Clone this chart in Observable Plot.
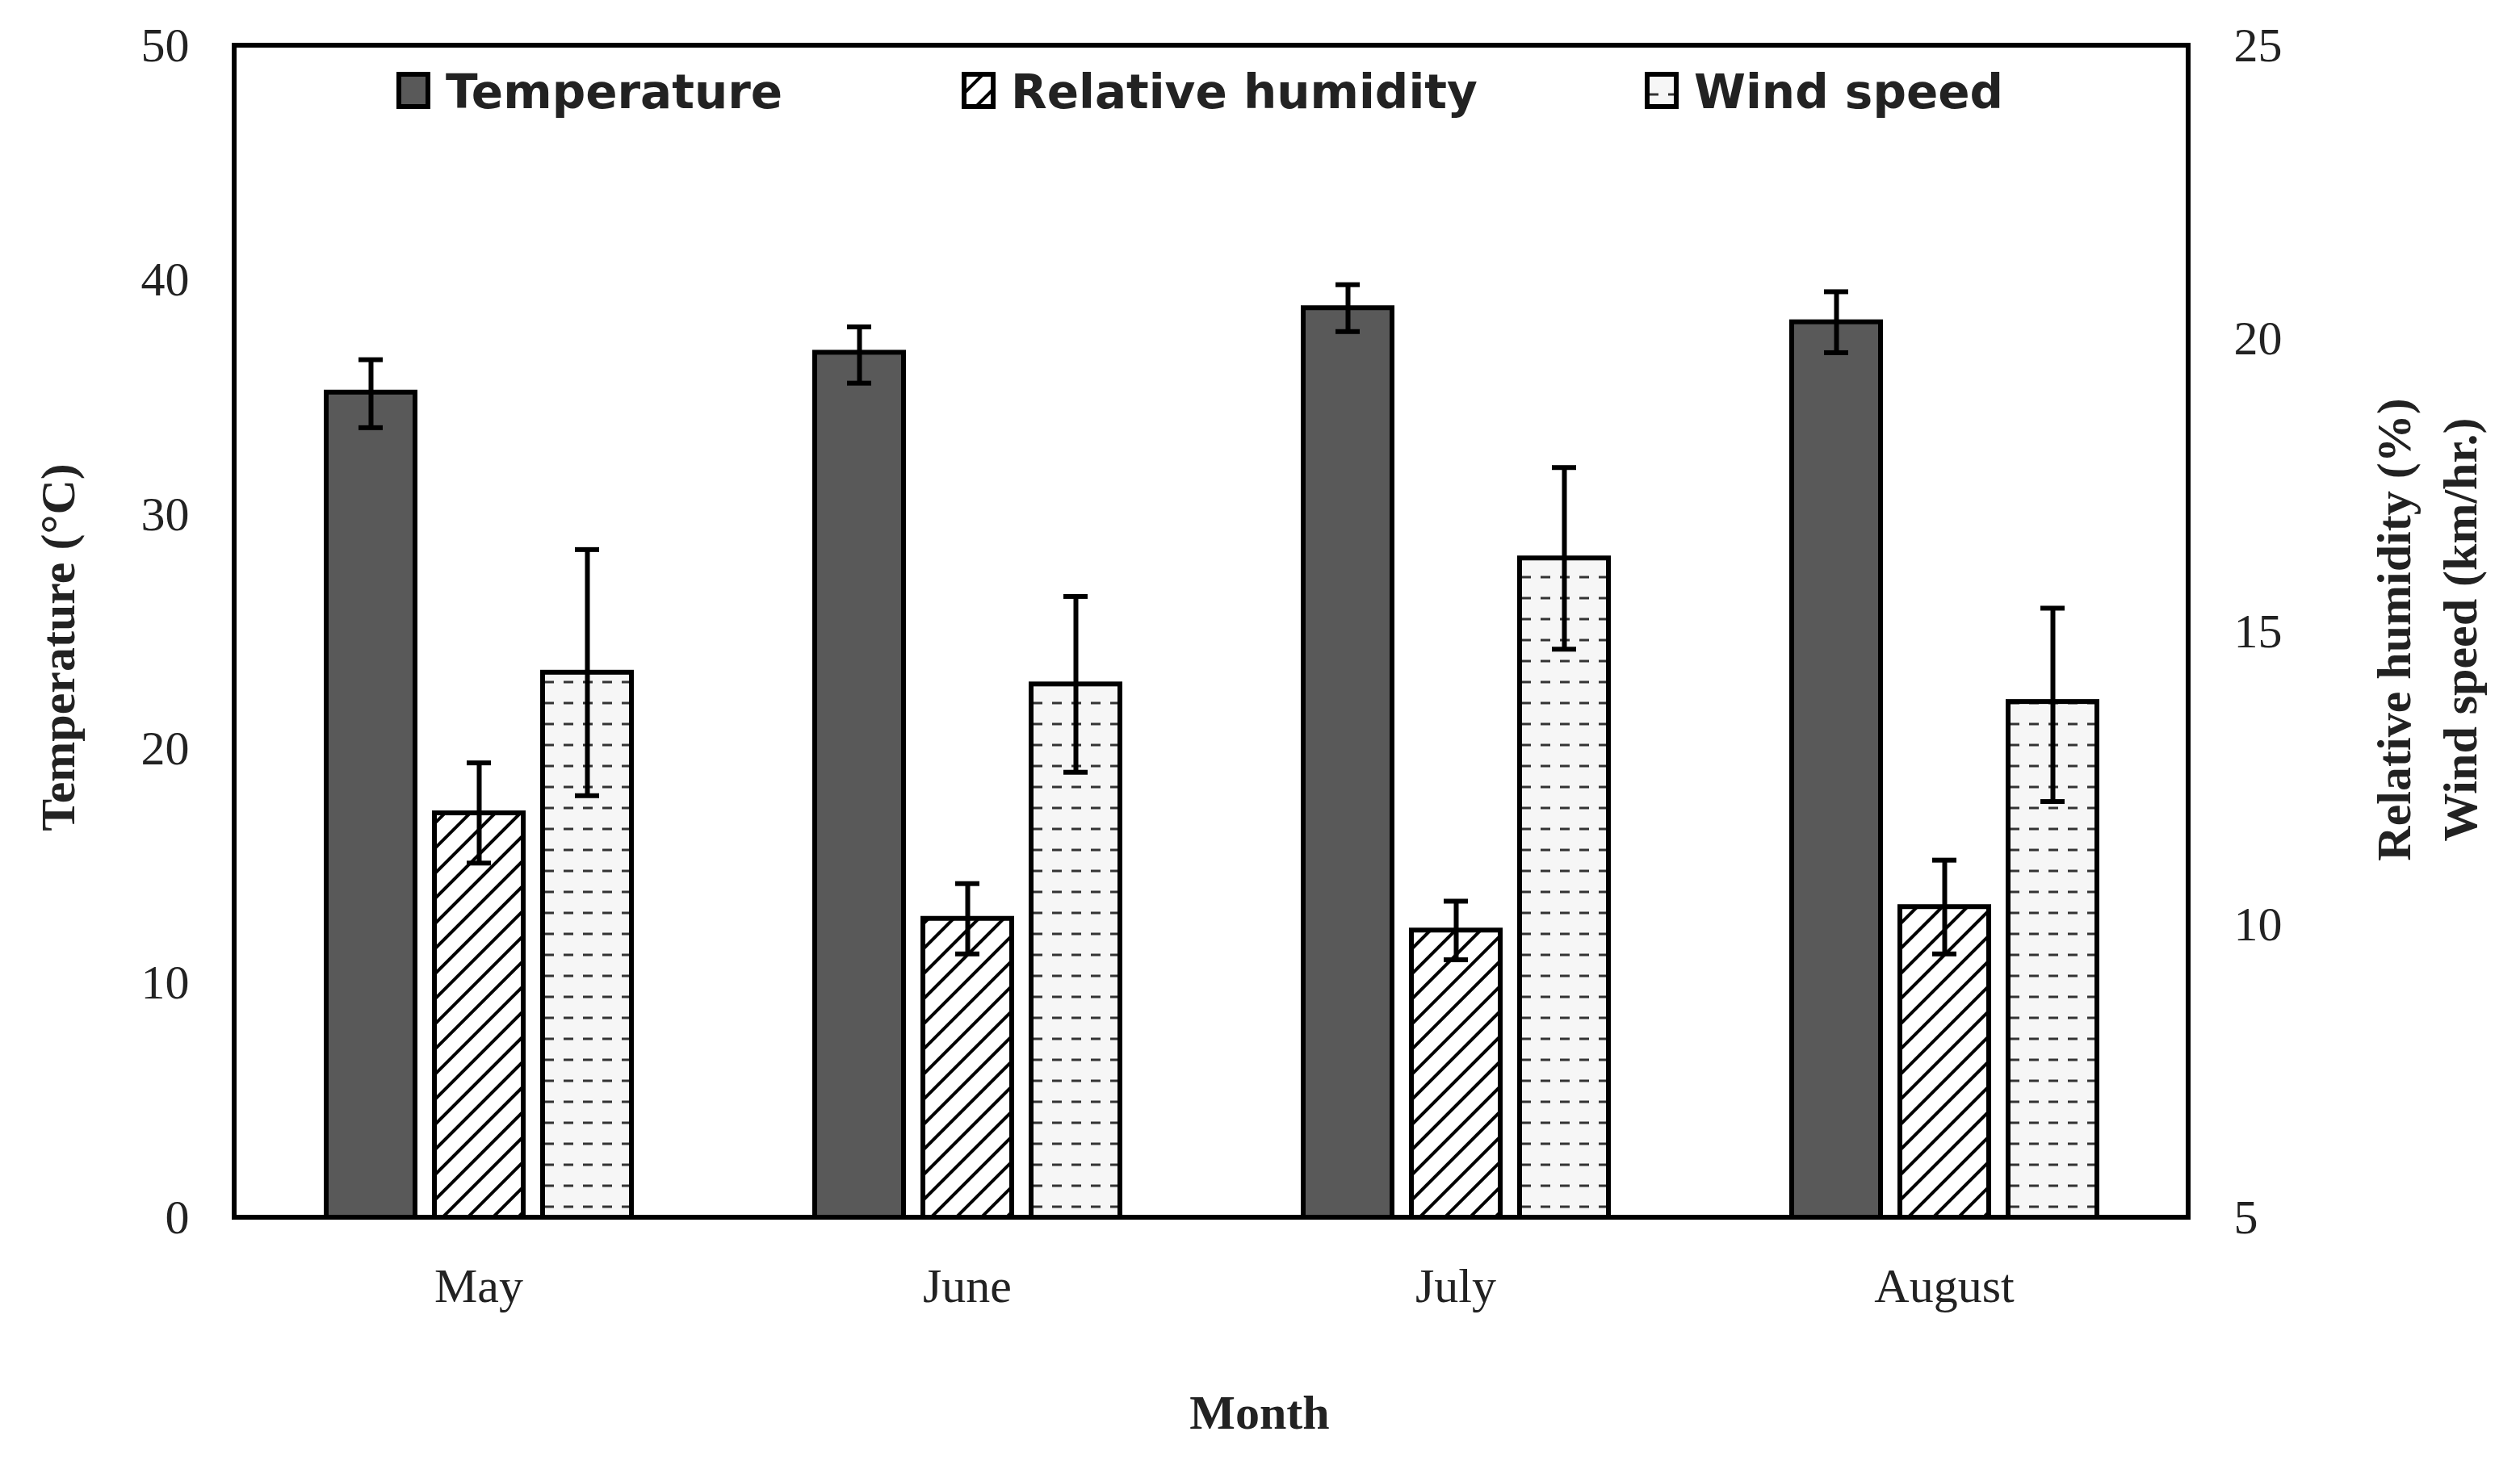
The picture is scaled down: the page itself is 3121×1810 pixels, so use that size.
<!DOCTYPE html>
<html><head><meta charset="utf-8">
<script src="https://cdn.jsdelivr.net/npm/d3@7"></script>
<script src="https://cdn.jsdelivr.net/npm/@observablehq/plot@0.6"></script>
<style>body{margin:0;background:#fff}</style>
</head><body><div id="chart"></div>
<script>
const months = ["May","June","July","August"];
const series = ["Temperature","Relative humidity","Wind speed"];
const temperature = [35.2, 36.9, 38.8, 38.2];
const tempLow = [33.7, 35.6, 37.8, 36.9];
const tempHigh = [36.6, 38.0, 39.8, 39.5];
const humidity = [11.9, 10.1, 9.9, 10.3];
const humLow = [11.05, 9.5, 9.4, 9.5];
const humHigh = [12.76, 10.7, 10.4, 11.1];
const wind = [14.3, 14.1, 16.25, 13.8];
const windLow = [12.2, 12.6, 14.7, 12.1];
const windHigh = [16.4, 15.6, 17.8, 15.4];
const leftTicks = [0,10,20,30,40,50];
const rightTicks = [5,10,15,20,25];

const toLeft = v => (v - 5) * 2.5;
const fills = {"Temperature":"#595959","Relative humidity":"url(#hatch)","Wind speed":"url(#dash)"};
const rows = [];
months.forEach((m,i)=>{
  rows.push({month:m, s:series[0], v:temperature[i], lo:tempLow[i], hi:tempHigh[i]});
  rows.push({month:m, s:series[1], v:toLeft(humidity[i]), lo:toLeft(humLow[i]), hi:toLeft(humHigh[i])});
  rows.push({month:m, s:series[2], v:toLeft(wind[i]), lo:toLeft(windLow[i]), hi:toLeft(windHigh[i])});
});
const W=3121,H=1810,ML=290,MR=411,MT=56,MB=302;
const plot = Plot.plot({
  width:W, height:H, marginLeft:ML, marginRight:MR, marginTop:MT, marginBottom:MB,
  style:{fontFamily:"Liberation Serif", fontSize:"60px", color:"#222", background:"#fff"},
  fx:{domain:months, padding:0, label:null},
  x:{domain:series, paddingInner:0.18, paddingOuter:0.84, axis:null},
  y:{domain:[0,50], axis:null},
  marks:[
    Plot.axisFx({anchor:"bottom", tickSize:0, tickPadding:62, label:null, fontSize:60}),
    Plot.axisY({anchor:"left", ticks:leftTicks, tickSize:0, tickPadding:56, label:null, fontSize:60}),
    Plot.axisY({anchor:"right", ticks:rightTicks.map(toLeft), tickFormat:d=>d/2.5+5, tickSize:0, tickPadding:56, label:null, fontSize:60}),
    Plot.barY(rows,{fx:"month", x:"s", y:"v", fill:d=>fills[d.s], stroke:"#000", strokeWidth:6}),
    Plot.ruleX(rows,{fx:"month", x:"s", y1:"lo", y2:"hi", stroke:"#000", strokeWidth:6}),
    Plot.tickY(rows,{fx:"month", x:"s", y:"lo", stroke:"#000", strokeWidth:6, insetLeft:40, insetRight:40}),
    Plot.tickY(rows,{fx:"month", x:"s", y:"hi", stroke:"#000", strokeWidth:6, insetLeft:40, insetRight:40})
  ]
});
const svg = d3.select(plot);
const defs = svg.insert("defs",":first-child");
const h = defs.append("pattern").attr("id","hatch").attr("patternUnits","userSpaceOnUse").attr("width",22).attr("height",22).attr("patternTransform","rotate(45)");
h.append("rect").attr("width",22).attr("height",22).attr("fill","#fff");
h.append("line").attr("x1",0).attr("y1",0).attr("x2",0).attr("y2",22).attr("stroke","#000").attr("stroke-width",8);
const dp = defs.append("pattern").attr("id","dash").attr("patternUnits","userSpaceOnUse").attr("width",24).attr("height",26);
dp.append("rect").attr("width",24).attr("height",26).attr("fill","#f6f6f6");
dp.append("line").attr("x1",2).attr("y1",13).attr("x2",14).attr("y2",13).attr("stroke","#333").attr("stroke-width",3);
svg.append("rect").attr("x",ML).attr("y",MT).attr("width",W-ML-MR).attr("height",H-MT-MB).attr("fill","none").attr("stroke","#000").attr("stroke-width",6);
const t = (x,y,txt,rot)=>svg.append("text").attr("transform",`translate(${x},${y})${rot?" rotate(-90)":""}`).attr("text-anchor","middle").attr("font-family","Liberation Serif").attr("font-weight","bold").attr("font-size",60).attr("fill","#222").text(txt);
t(92,(MT+H-MB)/2+20,"Temperature (°C)",true);
t(2985,780,"Relative humidity (%)",true);
t(3067,780,"Wind speed (km/hr.)",true);
t((ML+W-MR)/2+60,1770,"Month",false);
const lx=[494,1194,2040];
series.forEach((s,i)=>{
  svg.append("rect").attr("x",lx[i]).attr("y",92).attr("width",36).attr("height",40).attr("fill",fills[s]).attr("stroke","#000").attr("stroke-width",6);
  svg.append("text").attr("x",lx[i]+58).attr("y",134).attr("text-anchor","start").attr("font-family","DejaVu Sans").attr("font-weight","bold").attr("font-size",58).attr("fill","#222").text(s);
});
document.getElementById("chart").append(plot);
</script></body></html>
